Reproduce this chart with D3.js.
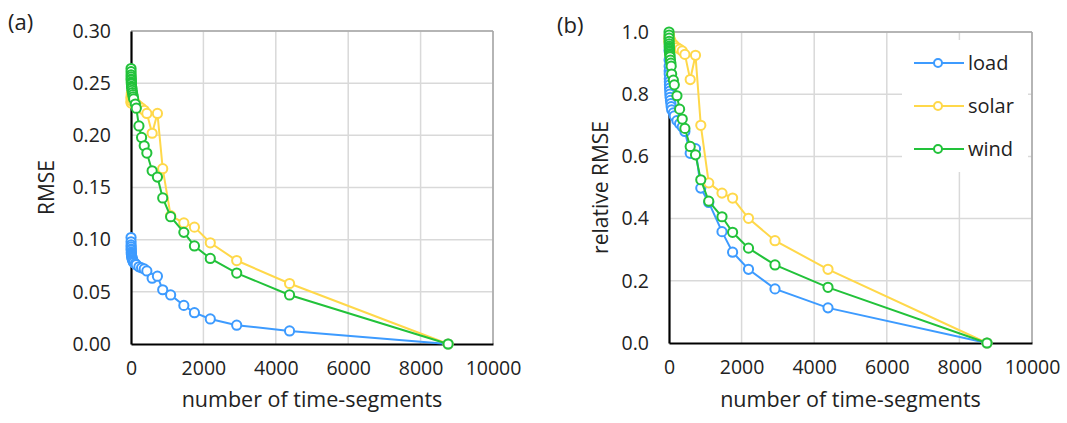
<!DOCTYPE html>
<html>
<head>
<meta charset="utf-8">
<script src="https://cdn.jsdelivr.net/npm/d3@7"></script>
<style>
  body { margin: 0; background: #fff; }
  text { font-family: "Open Sans", sans-serif; fill: #222; }
</style>
</head>
<body>
<script>
// number of time-segments (x for every series)
var segments = [1, 2, 3, 4, 5, 6, 8, 10, 12, 15, 20, 24, 30, 40, 52, 60, 73, 120, 146, 219, 292,
    365, 438, 584, 730, 876, 1095, 1460, 1752, 2190, 2920, 4380, 8760];

// (a) RMSE
var rmseLoad = [0.102, 0.098, 0.095, 0.093, 0.091, 0.090, 0.088, 0.087, 0.086, 0.085, 0.084, 0.083,
    0.082, 0.081, 0.080, 0.079, 0.078, 0.077, 0.076, 0.074, 0.073, 0.072, 0.070, 0.063, 0.065,
    0.052, 0.047, 0.037, 0.030, 0.024, 0.018, 0.0125, 0];
var rmseSolar = [0.236, 0.232, 0.231, 0.233, 0.235, 0.237, 0.239, 0.240, 0.241, 0.240, 0.239, 0.238,
    0.237, 0.236, 0.235, 0.234, 0.233, 0.231, 0.230, 0.228, 0.226, 0.224, 0.221, 0.202, 0.221,
    0.168, 0.123, 0.116, 0.112, 0.097, 0.080, 0.058, 0];
var rmseWind = [0.264, 0.261, 0.258, 0.256, 0.254, 0.253, 0.251, 0.250, 0.249, 0.247, 0.246, 0.245,
    0.243, 0.241, 0.239, 0.237, 0.235, 0.230, 0.226, 0.209, 0.198, 0.190, 0.183, 0.166, 0.160,
    0.140, 0.122, 0.107, 0.094, 0.082, 0.068, 0.047, 0];

// (b) relative RMSE
var relLoad = [0.98, 0.94, 0.91, 0.89, 0.875, 0.865, 0.85, 0.84, 0.83, 0.82, 0.81, 0.80,
    0.79, 0.78, 0.77, 0.76, 0.75, 0.74, 0.73, 0.715, 0.705, 0.695, 0.68, 0.61, 0.625,
    0.498, 0.452, 0.358, 0.292, 0.237, 0.174, 0.113, 0];
var relSolar = [0.985, 0.97, 0.965, 0.97, 0.975, 0.98, 0.985, 0.99, 0.99, 0.985, 0.98, 0.978,
    0.975, 0.972, 0.97, 0.968, 0.965, 0.96, 0.957, 0.95, 0.945, 0.939, 0.928, 0.847, 0.925,
    0.70, 0.515, 0.482, 0.466, 0.401, 0.329, 0.237, 0];
var relWind = [1.0, 0.99, 0.98, 0.97, 0.962, 0.955, 0.95, 0.945, 0.94, 0.935, 0.93, 0.925,
    0.92, 0.91, 0.90, 0.89, 0.865, 0.845, 0.83, 0.795, 0.752, 0.72, 0.69, 0.632, 0.605,
    0.525, 0.456, 0.406, 0.356, 0.305, 0.251, 0.179, 0];

var seriesNames = ['load', 'solar', 'wind'];
var colors = { load: '#3d9bff', solar: '#ffd84a', wind: '#22c23a' };

var xTicks = [0, 2000, 4000, 6000, 8000, 10000];
var yTicksA = [0, 0.05, 0.10, 0.15, 0.20, 0.25, 0.30];
var yTicksB = [0, 0.2, 0.4, 0.6, 0.8, 1.0];

var svg = d3.select('body').append('svg')
    .attr('width', 1067)
    .attr('height', 423);

function panel(opt) {
    var x = d3.scaleLinear().domain([0, 10000]).range([opt.left, opt.right]);
    var y = d3.scaleLinear().domain([0, opt.ymax]).range([opt.bottom, opt.top]);
    var g = svg.append('g');

    // grid
    g.selectAll('line.vg').data(xTicks.slice(1)).enter().append('line')
        .attr('x1', x).attr('x2', x)
        .attr('y1', opt.top).attr('y2', opt.bottom)
        .attr('stroke', '#d9d9d9').attr('stroke-width', 1.5);
    g.selectAll('line.hg').data(opt.yTicks.slice(1)).enter().append('line')
        .attr('x1', opt.left).attr('x2', opt.right)
        .attr('y1', y).attr('y2', y)
        .attr('stroke', '#d9d9d9').attr('stroke-width', 1.5);
    // top / right frame
    g.append('line').attr('x1', opt.left).attr('x2', opt.right)
        .attr('y1', opt.top).attr('y2', opt.top)
        .attr('stroke', '#a6a6a6').attr('stroke-width', 1.5);
    g.append('line').attr('x1', opt.right).attr('x2', opt.right)
        .attr('y1', opt.top).attr('y2', opt.bottom)
        .attr('stroke', '#a6a6a6').attr('stroke-width', 1.5);

    // axes
    var xAxis = d3.axisBottom(x).tickValues(xTicks).tickSize(0).tickPadding(17)
        .tickFormat(d3.format('d'));
    var yAxis = d3.axisLeft(y).tickValues(opt.yTicks).tickSize(0).tickPadding(20)
        .tickFormat(d3.format(opt.fmt));
    var gx = g.append('g').attr('transform', 'translate(0,' + opt.bottom + ')').call(xAxis);
    var gy = g.append('g').attr('transform', 'translate(' + opt.left + ',0)').call(yAxis);
    [gx, gy].forEach(function (a) {
        a.select('.domain').attr('stroke', '#000').attr('stroke-width', 2.2);
        a.selectAll('text').style('font-family', '"Open Sans", sans-serif')
            .style('font-size', '19.5px').attr('fill', '#222');
    });

    // lines + markers
    var line = d3.line()
        .x(function (d) { return x(d[0]); })
        .y(function (d) { return y(d[1]); });
    opt.series.forEach(function (vals, i) {
        var name = seriesNames[i];
        var pts = segments.map(function (s, j) { return [s, vals[j]]; });
        g.append('path').datum(pts)
            .attr('d', line)
            .attr('fill', 'none')
            .attr('stroke', colors[name])
            .attr('stroke-width', 2);
        g.selectAll('circle.' + name).data(pts).enter().append('circle')
            .attr('class', name)
            .attr('cx', function (d) { return x(d[0]); })
            .attr('cy', function (d) { return y(d[1]); })
            .attr('r', 4.6)
            .attr('fill', '#fff')
            .attr('stroke', colors[name])
            .attr('stroke-width', 2);
    });

    // titles
    g.append('text')
        .attr('x', (opt.left + opt.right) / 2).attr('y', 407)
        .attr('text-anchor', 'middle')
        .style('font-size', '21.5px')
        .text('number of time-segments');
    g.append('text')
        .attr('transform', 'translate(' + opt.ytx + ',' + ((opt.top + opt.bottom) / 2) + ') rotate(-90)')
        .attr('text-anchor', 'middle')
        .attr('dy', '0.35em')
        .style('font-size', '21px')
        .text(opt.ytitle);
    g.append('text')
        .attr('x', opt.tagx).attr('y', opt.tagy)
        .style('font-size', '22px')
        .text(opt.tag);

    return { x: x, y: y, g: g };
}

panel({
    left: 131, right: 493, top: 31, bottom: 344, ymax: 0.30,
    yTicks: yTicksA, fmt: '.2f', ytitle: 'RMSE', ytx: 47,
    tag: '(a)', tagx: 8, tagy: 30,
    series: [rmseLoad, rmseSolar, rmseWind]
});

var pb = panel({
    left: 669, right: 1032, top: 32, bottom: 343, ymax: 1.0,
    yTicks: yTicksB, fmt: '.1f', ytitle: 'relative RMSE', ytx: 601,
    tag: '(b)', tagx: 557, tagy: 33,
    series: [relLoad, relSolar, relWind]
});

// legend (panel b)
var leg = pb.g.append('g').attr('transform', 'translate(902,40)');
leg.append('rect').attr('width', 126).attr('height', 132).attr('fill', '#fff');
seriesNames.forEach(function (name, i) {
    var row = leg.append('g').attr('transform', 'translate(0,' + (23 + i * 43) + ')');
    row.append('line').attr('x1', 12).attr('x2', 62)
        .attr('stroke', colors[name]).attr('stroke-width', 2);
    row.append('circle').attr('cx', 36).attr('r', 4)
        .attr('fill', '#fff').attr('stroke', colors[name]).attr('stroke-width', 2);
    row.append('text').attr('x', 66).attr('dy', '0.35em')
        .style('font-size', '20px').text(name);
});
</script>
</body>
</html>
